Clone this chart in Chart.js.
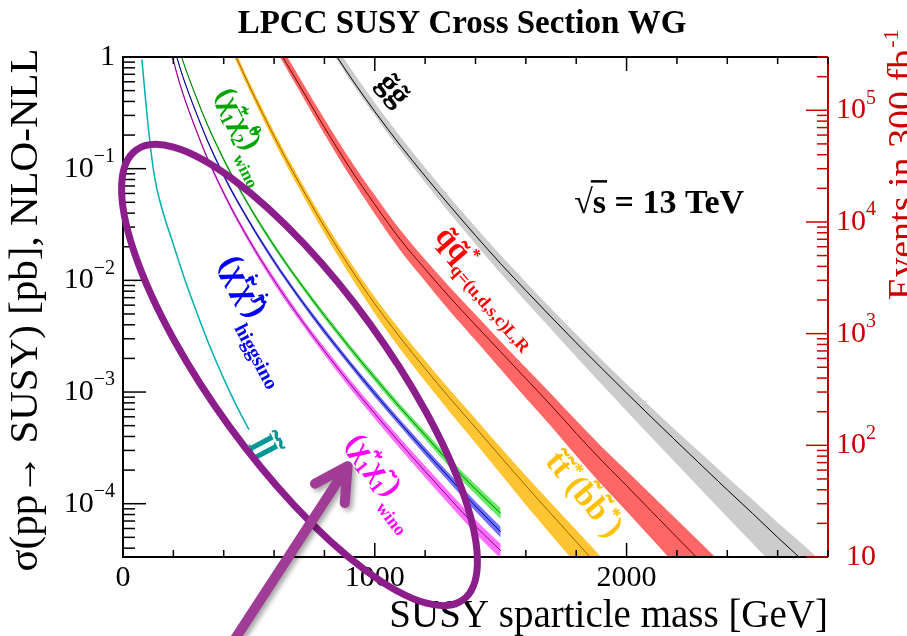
<!DOCTYPE html>
<html>
<head>
<meta charset="utf-8">
<script src="https://cdn.jsdelivr.net/npm/chart.js@4.4.1/dist/chart.umd.min.js"></script>
<style>
  html, body { margin: 0; padding: 0; background: #fff; }
</style>
</head>
<body>
<canvas id="xsec" width="907" height="636"></canvas>
<script>
// NLO-NLL cross sections [pb] at 13 TeV
const gluinoMass = [800, 900, 1000, 1100, 1200, 1300, 1400, 1500, 1600, 1700, 1800, 1900, 2000, 2100, 2200, 2300, 2400, 2500, 2600, 2700, 2800];
const gluinoXsec = [1.49, 0.677, 0.325, 0.163, 0.0856, 0.046, 0.0252, 0.0141, 0.0081, 0.00471, 0.00276, 0.00164, 0.000981, 0.000591, 0.000358, 0.000218, 0.000133, 0.000082, 0.00005, 0.000031, 0.000019];
const gluinoUp   = [0.2, 0.2, 0.2, 0.2, 0.19, 0.19, 0.19, 0.19, 0.19, 0.19, 0.19, 0.19, 0.2, 0.22, 0.24, 0.27, 0.3, 0.33, 0.36, 0.39, 0.42];
const gluinoDown = [0.06, 0.07, 0.08, 0.1, 0.12, 0.14, 0.16, 0.18, 0.2, 0.22, 0.25, 0.28, 0.31, 0.34, 0.37, 0.4, 0.43, 0.46, 0.48, 0.5, 0.52];

const squarkMass = [500, 600, 700, 800, 900, 1000, 1100, 1200, 1300, 1400, 1500, 1600, 1700, 1800, 1900, 2000, 2100, 2200, 2300, 2400];
const squarkXsec = [3.98, 1.38, 0.562, 0.234, 0.102, 0.0479, 0.0234, 0.0126, 0.00697, 0.00398, 0.00229, 0.00132, 0.00076, 0.000427, 0.000245, 0.000145, 0.000085, 0.00005, 0.0000295, 0.0000174];
const squarkUp   = [0.16, 0.17, 0.18, 0.19, 0.2, 0.21, 0.22, 0.22, 0.23, 0.24, 0.24, 0.25, 0.27, 0.3, 0.33, 0.36, 0.4, 0.44, 0.47, 0.5];
const squarkDown = [0.07, 0.09, 0.11, 0.13, 0.15, 0.18, 0.2, 0.22, 0.25, 0.27, 0.3, 0.33, 0.35, 0.37, 0.39, 0.41, 0.43, 0.45, 0.46, 0.47];

const stopMass = [400, 500, 600, 700, 800, 900, 1000, 1100, 1200, 1300, 1400, 1500, 1600, 1700, 1800, 1900, 2000];
const stopXsec = [1.78, 0.562, 0.195, 0.0741, 0.0302, 0.0132, 0.00617, 0.00309, 0.00162, 0.00087, 0.00048, 0.000263, 0.000145, 0.0000813, 0.0000457, 0.0000257, 0.0000145];
const stopUp   = [0.09, 0.09, 0.1, 0.11, 0.12, 0.13, 0.15, 0.17, 0.18, 0.19, 0.2, 0.21, 0.23, 0.25, 0.27, 0.29, 0.31];
const stopDown = [0.09, 0.09, 0.1, 0.11, 0.13, 0.15, 0.18, 0.21, 0.23, 0.25, 0.27, 0.3, 0.33, 0.35, 0.37, 0.39, 0.41];

const ewkMass = [100, 200, 300, 400, 500, 600, 700, 800, 900, 1000, 1100, 1200, 1300, 1400, 1500];
const c1n2WinoXsec  = [22.7, 1.81, 0.387, 0.121, 0.0469, 0.0204, 0.00968, 0.00484, 0.00251, 0.00134, 0.00073, 0.00041, 0.00023, 0.000135, 0.000082];
const higgsinoXsec  = [16.0, 1.3, 0.28, 0.087, 0.034, 0.0148, 0.007, 0.0035, 0.00182, 0.00097, 0.00053, 0.000295, 0.000167, 0.000095, 0.000056];
const c1c1WinoXsec  = [11.6, 0.93, 0.195, 0.0605, 0.0231, 0.01, 0.00469, 0.00233, 0.0012, 0.00064, 0.00035, 0.000195, 0.00011, 0.000063, 0.000038];
const ewkUnc        = [0.02, 0.03, 0.03, 0.04, 0.04, 0.05, 0.05, 0.06, 0.06, 0.07, 0.07, 0.08, 0.09, 0.1, 0.11];
const c1c1Unc       = [0.03, 0.04, 0.04, 0.05, 0.06, 0.07, 0.07, 0.08, 0.09, 0.1, 0.11, 0.12, 0.13, 0.14, 0.15];

const sleptonMass = [75, 100, 125, 150, 200, 250, 300, 350, 400, 450, 500];
const sleptonXsec = [0.95, 0.24, 0.085, 0.048, 0.021, 0.0095, 0.00468, 0.0024, 0.00132, 0.00076, 0.00046];

const leftTickExps = [0, -1, -2, -3, -4];
const rightTickExps = [1, 2, 3, 4, 5];
const massTickLabels = [0, 1000, 2000];

const lumiFactor = 300000; // events in 300 fb^-1 per pb
const serif = '"Liberation Serif", "Times New Roman", serif';

function pts(mass, vals, f) {
  return mass.map((m, i) => ({ x: m, y: vals[i] * (f ? f(i) : 1) }));
}

function bandSets(mass, xsec, up, down, fill, line, order) {
  const base = { pointRadius: 0, borderWidth: 0, cubicInterpolationMode: 'monotone', order: order };
  return [
    Object.assign({}, base, { data: pts(mass, xsec, i => 1 + up[i]), fill: '+1', backgroundColor: fill, borderColor: fill }),
    Object.assign({}, base, { data: pts(mass, xsec, i => 1 - down[i]), fill: false, borderColor: fill }),
    { data: pts(mass, xsec), borderColor: line, borderWidth: 1, pointRadius: 0, fill: false,
      cubicInterpolationMode: 'monotone', order: order - 0.5 }
  ];
}

const datasets = [].concat(
  bandSets(gluinoMass, gluinoXsec, gluinoUp, gluinoDown, 'rgb(204,204,204)', '#000000', 10),
  bandSets(squarkMass, squarkXsec, squarkUp, squarkDown, 'rgb(255,102,102)', '#700000', 9),
  bandSets(stopMass, stopXsec, stopUp, stopDown, 'rgb(255,196,50)', '#a06000', 8),
  bandSets(ewkMass, c1n2WinoXsec, ewkUnc, ewkUnc, 'rgb(100,235,100)', '#007700', 7),
  bandSets(ewkMass, higgsinoXsec, ewkUnc, ewkUnc, 'rgb(110,110,255)', '#000080', 6),
  bandSets(ewkMass, c1c1WinoXsec, c1c1Unc, c1c1Unc, 'rgb(255,110,255)', '#800080', 5),
  [{ data: pts(sleptonMass, sleptonXsec), borderColor: 'rgb(0,175,175)', borderWidth: 1.5,
     pointRadius: 0, fill: false, cubicInterpolationMode: 'monotone', order: 1 }]
);

function richText(ctx, x, y, deg, parts, size, color) {
  ctx.save();
  ctx.translate(x, y);
  ctx.rotate(deg * Math.PI / 180);
  ctx.fillStyle = color;
  ctx.textAlign = 'left';
  ctx.textBaseline = 'alphabetic';
  let cx = 0;
  for (const p of parts) {
    ctx.font = 'bold ' + size + 'px ' + serif;
    ctx.fillText(p.t, cx, 0);
    cx += ctx.measureText(p.t).width;
    ctx.font = 'bold ' + Math.round(size * (p.small || 0.62)) + 'px ' + serif;
    let w = 0;
    if (p.sup) { ctx.fillText(p.sup, cx, -size * 0.42); w = Math.max(w, ctx.measureText(p.sup).width); }
    if (p.sub) { ctx.fillText(p.sub, cx, size * (p.low || 0.28)); w = Math.max(w, ctx.measureText(p.sub).width); }
    cx += w;
  }
  ctx.restore();
}

function powLabel(ctx, x, y, exp, align, color) {
  ctx.fillStyle = color;
  ctx.textBaseline = 'middle';
  ctx.textAlign = 'left';
  const base = exp === 0 ? '1' : '10';
  const sup = (exp === 0 || exp === 1) ? '' : (exp < 0 ? '\u2212' + (-exp) : String(exp));
  ctx.font = '30px ' + serif;
  const bw = ctx.measureText(base).width;
  ctx.font = '20px ' + serif;
  const ew = sup ? ctx.measureText(sup).width : 0;
  const left = align === 'right' ? x - bw - ew : x;
  ctx.font = '30px ' + serif;
  ctx.fillText(base, left, y);
  if (sup) { ctx.font = '20px ' + serif; ctx.fillText(sup, left + bw, y - 12); }
}

const decorations = {
  id: 'decorations',
  afterDraw(chart) {
    const { ctx, chartArea: a } = chart;
    const xs = chart.scales.x, ys = chart.scales.y, y2 = chart.scales.y2;
    ctx.save();

    // frame
    ctx.lineWidth = 2;
    ctx.strokeStyle = '#000';
    ctx.beginPath();
    ctx.moveTo(a.right, a.top); ctx.lineTo(a.left, a.top); ctx.lineTo(a.left, a.bottom); ctx.lineTo(a.right, a.bottom);
    ctx.stroke();
    ctx.strokeStyle = 'rgb(200,0,0)';
    ctx.beginPath(); ctx.moveTo(a.right, a.top); ctx.lineTo(a.right, a.bottom); ctx.stroke();

    // x ticks, bottom and top
    ctx.strokeStyle = '#000';
    ctx.lineWidth = 1.5;
    for (const t of xs.ticks) {
      const px = xs.getPixelForValue(t.value);
      const len = t.value % 1000 === 0 ? 14 : 7;
      ctx.beginPath();
      ctx.moveTo(px, a.bottom); ctx.lineTo(px, a.bottom - len);
      ctx.moveTo(px, a.top); ctx.lineTo(px, a.top + len);
      ctx.stroke();
    }
    // left log ticks
    for (let e = -5; e <= 0; e++) {
      for (let k = 1; k <= 9; k++) {
        const v = k * Math.pow(10, e);
        if (v < ys.min * 0.999 || v > ys.max * 1.001) continue;
        const py = ys.getPixelForValue(v);
        ctx.beginPath(); ctx.moveTo(a.left, py); ctx.lineTo(a.left + (k === 1 ? 23 : 12), py); ctx.stroke();
      }
    }
    // right log ticks (events)
    ctx.strokeStyle = 'rgb(200,0,0)';
    for (let e = 1; e <= 5; e++) {
      for (let k = 1; k <= 9; k++) {
        const v = k * Math.pow(10, e);
        if (v < y2.min * 0.999 || v > y2.max * 1.001) continue;
        const py = y2.getPixelForValue(v);
        ctx.beginPath(); ctx.moveTo(a.right, py); ctx.lineTo(a.right - (k === 1 ? 22 : 11), py); ctx.stroke();
      }
    }

    // tick labels
    for (const e of leftTickExps) powLabel(ctx, 115, ys.getPixelForValue(Math.pow(10, e)), e, 'right', '#000');
    for (const e of rightTickExps) powLabel(ctx, e === 1 ? 846 : 836, y2.getPixelForValue(Math.pow(10, e)), e, 'left', 'rgb(200,0,0)');
    ctx.fillStyle = '#000';
    ctx.font = '30px ' + serif;
    ctx.textAlign = 'center';
    ctx.textBaseline = 'top';
    for (const m of massTickLabels) ctx.fillText(String(m), xs.getPixelForValue(m), 563);

    // axis titles
    ctx.font = '39px ' + serif;
    ctx.textBaseline = 'alphabetic';
    ctx.textAlign = 'right';
    ctx.fillText('SUSY sparticle mass [GeV]', a.right, 627);
    ctx.save();
    ctx.font = '41px ' + serif;
    ctx.translate(37, 310); ctx.rotate(-Math.PI / 2);
    ctx.textAlign = 'center';
    ctx.fillText('\u03c3(pp\u2192 SUSY) [pb], NLO-NLL', 0, 0);
    ctx.restore();
    ctx.save();
    ctx.font = '38px ' + serif;
    ctx.translate(914, 300); ctx.rotate(-Math.PI / 2);
    ctx.textAlign = 'left';
    ctx.fillStyle = 'rgb(200,0,0)';
    ctx.fillText('Events in 300 fb', 0, 0);
    const ew = ctx.measureText('Events in 300 fb').width;
    ctx.font = '22px ' + serif;
    ctx.fillText('-1', ew + 2, -16);
    ctx.restore();

    // title
    ctx.fillStyle = '#000';
    ctx.font = 'bold 33px ' + serif;
    ctx.textAlign = 'center';
    ctx.fillText('LPCC SUSY Cross Section WG', 462, 33);

    // sqrt(s)
    const sx = xs.getPixelForValue(1792), sy = ys.getPixelForValue(0.0398);
    ctx.font = 'bold 34px ' + serif;
    ctx.textAlign = 'left';
    ctx.fillText('\u221a', sx, sy);
    const rw = ctx.measureText('\u221a').width;
    ctx.fillText('s = 13 TeV', sx + rw, sy);
    const sw = ctx.measureText('s').width;
    ctx.lineWidth = 2.5;
    ctx.strokeStyle = '#000';
    ctx.beginPath(); ctx.moveTo(sx + rw - 2, sy - 32); ctx.lineTo(sx + rw + sw + 1, sy - 32); ctx.stroke();

    // curve labels
    const P = (m, s) => [xs.getPixelForValue(m), ys.getPixelForValue(s)];
    let p;
    p = P(1005, 0.58); richText(ctx, p[0], p[1], 50, [{ t: 'g\u0303g\u0303' }], 32, '#000');
    p = P(370, 0.47); richText(ctx, p[0], p[1], 63, [{ t: '(\u03c7\u0303', sup: '\u00b1', sub: '1' }, { t: '\u03c7\u0303', sup: '0', sub: '2' }, { t: ')', sub: 'wino', low: 0.5, small: 0.6 }], 29, 'rgb(0,165,0)');
    p = P(1235, 0.0245); richText(ctx, p[0], p[1], 49, [{ t: 'q\u0303q\u0303', sup: '*', sub: 'q=(u,d,s,c)L,R', low: 0.32, small: 0.55 }], 32, 'rgb(255,0,0)');
    p = P(384, 0.0145); richText(ctx, p[0], p[1], 62, [{ t: '(\u03c7\u0303', sup: 'i' }, { t: '\u03c7\u0303', sup: 'j' }, { t: ')', sub: 'higgsino', low: 0.55, small: 0.62 }], 33, 'rgb(0,0,255)');
    p = P(884, 0.00035); richText(ctx, p[0], p[1], 52, [{ t: '(\u03c7\u0303', sup: '+', sub: '1' }, { t: '\u03c7\u0303', sup: '\u2212', sub: '1' }, { t: ')', sub: 'wino', low: 0.55, small: 0.6 }], 30, 'rgb(255,0,255)');
    p = P(1673, 0.000236); richText(ctx, p[0], p[1], 50, [{ t: 't\u0303t\u0303', sup: '*' }, { t: '(b\u0303b\u0303', sup: '*' }, { t: ')' }], 33, 'rgb(255,192,0)');
    p = P(496, 0.00034); richText(ctx, p[0], p[1], 62, [{ t: 'l\u0303l\u0303' }], 36, 'rgb(0,150,150)');

    // purple highlight ellipse
    const c = P(701, 0.00142);
    ctx.lineWidth = 7;
    ctx.strokeStyle = 'rgb(140,30,140)';
    ctx.beginPath();
    ctx.ellipse(c[0], c[1], 278, 87, 54 * Math.PI / 180, 0, 2 * Math.PI);
    ctx.stroke();

    // arrow
    const tip = P(892, 0.000217);
    const dx = -0.546, dy = 0.838;
    ctx.save();
    ctx.shadowColor = 'rgba(0,0,0,0.35)';
    ctx.shadowBlur = 5;
    ctx.shadowOffsetX = 3;
    ctx.shadowOffsetY = 3;
    ctx.strokeStyle = 'rgb(160,60,150)';
    ctx.lineWidth = 10;
    ctx.lineCap = 'round';
    ctx.lineJoin = 'round';
    ctx.beginPath();
    ctx.moveTo(tip[0] + dx * 240, tip[1] + dy * 240);
    ctx.lineTo(tip[0], tip[1]);
    const ang = Math.atan2(dy, dx);
    for (const s of [-0.5, 0.5]) {
      ctx.moveTo(tip[0], tip[1]);
      ctx.lineTo(tip[0] + Math.cos(ang + s) * 37, tip[1] + Math.sin(ang + s) * 37);
    }
    ctx.stroke();
    ctx.restore();

    ctx.restore();
  }
};

new Chart(document.getElementById('xsec').getContext('2d'), {
  type: 'line',
  data: { datasets: datasets },
  options: {
    responsive: false,
    animation: false,
    layout: { padding: { top: 57, left: 0, right: 0, bottom: 0 } },
    plugins: { legend: { display: false }, tooltip: { enabled: false }, title: { display: false } },
    scales: {
      x: {
        type: 'linear', min: 0, max: 2800,
        ticks: { display: false, stepSize: 200 },
        grid: { display: false }, border: { display: false },
        afterFit(s) { s.height = 79; }
      },
      y: {
        type: 'logarithmic', position: 'left', min: 1 / 30000, max: 1,
        ticks: { display: false }, grid: { display: false }, border: { display: false },
        afterFit(s) { s.width = 123; }
      },
      y2: {
        type: 'logarithmic', position: 'right', min: 10, max: lumiFactor,
        ticks: { display: false }, grid: { display: false }, border: { display: false },
        afterFit(s) { s.width = 79; }
      }
    }
  },
  plugins: [decorations]
});
</script>
</body>
</html>
